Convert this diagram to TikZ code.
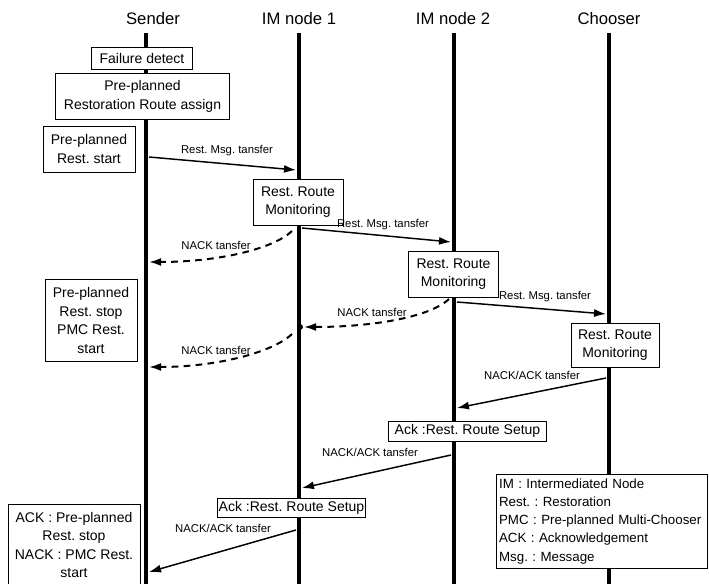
\documentclass[tikz,border=0pt]{standalone}
\usepackage{fontspec}
\setmainfont{Liberation Sans}
\usetikzlibrary{arrows.meta}

\begin{document}
\frenchspacing
\begin{tikzpicture}[x=0.75pt,y=-0.75pt,
        life/.style={line width=3.6pt},
        head/.style={font=\fontsize{12.5}{14}\selectfont},
        stepbox/.style={draw,fill=white,line width=0.6pt,align=center,inner sep=1pt,font=\fontsize{10.5}{13.8}\selectfont},
        lbl/.style={font=\fontsize{8.5}{10}\selectfont,inner sep=0pt},
        msg/.style={line width=1.1pt,-{Latex[length=9pt,width=6pt]}},
        nack/.style={msg,line width=1.5pt,dash pattern=on 5pt off 4pt}]
                \useasboundingbox (0,0) rectangle (709,584);

                % lifelines
                \node[head] (hSender) at (153,19) {Sender};
                \node[head] (hIM1) at (299,19) {IM node 1};
                \node[head] (hIM2) at (453,19) {IM node 2};
                \node[head] (hChooser) at (609,19) {Chooser};
                \coordinate (sTop) at (146,33);   \coordinate (sBot) at (146,592);
                \coordinate (aTop) at (299,33);   \coordinate (aBot) at (299,592);
                \coordinate (bTop) at (454,33);   \coordinate (bBot) at (454,592);
                \coordinate (cTop) at (609,33);   \coordinate (cBot) at (609,592);
                \draw [life] (sTop) -- (sBot);
                \draw [life] (aTop) -- (aBot);
                \draw [life] (bTop) -- (bBot);
                \draw [life] (cTop) -- (cBot);

                % boxes
                \node[stepbox,minimum width=76pt,minimum height=17pt] (fdet) at (142,58.5) {Failure detect};
                \node[stepbox,minimum width=130pt,minimum height=34pt] (assign) at (142.5,96.5) {Pre-planned\\Restoration Route assign};
                \node[stepbox,minimum width=69pt,minimum height=34.5pt] (pstart) at (89,149) {Pre-planned\\Rest. start};
                \node[stepbox,minimum width=67.5pt,minimum height=34.5pt] (mon1) at (298,202) {Rest. Route\\Monitoring};
                \node[stepbox,minimum width=67pt,minimum height=34.5pt] (mon2) at (453.5,274) {Rest. Route\\Monitoring};
                \node[stepbox,minimum width=66pt,minimum height=33pt] (mon3) at (615,345) {Rest. Route\\Monitoring};
                \node[stepbox,minimum width=69pt,minimum height=62pt] (pstop) at (91,320.5) {Pre-planned\\Rest. stop\\PMC Rest.\\start};
                \node[stepbox,minimum width=119pt,minimum height=15pt] (ack1) at (467.5,431) {Ack :Rest. Route Setup};
                \node[stepbox,minimum width=97.5pt,minimum height=14pt] (ack2) at (291.5,508) {Ack :Rest. Route Setup};
                \node[stepbox,minimum width=99pt,minimum height=61.5pt] (result) at (74,545) {ACK : Pre-planned\\Rest. stop\\NACK : PMC Rest.\\start};
                \node[stepbox,anchor=north west,align=left,inner xsep=2pt,inner ysep=3pt,text width=154pt,
                        font=\fontsize{10}{13.7}\selectfont] (legend) at (496,474)
                        {IM : Intermediated Node\\Rest. : Restoration\\PMC : Pre-planned Multi-Chooser\\ACK : Acknowledgement\\Msg. : Message};

                % message ends
                \coordinate (m1a) at (149,157);   \coordinate (m1b) at (296,170);
                \coordinate (m2a) at (302,228);   \coordinate (m2b) at (451,242);
                \coordinate (m3a) at (457,302);   \coordinate (m3b) at (606,314);
                \coordinate (n4a) at (606,378);   \coordinate (n4b) at (457,408);
                \coordinate (n5a) at (451,455);   \coordinate (n5b) at (302,488);
                \coordinate (n6a) at (296,530);   \coordinate (n6b) at (149,572);
                \coordinate (d1a) at (292,231);   \coordinate (d1b) at (149,262);
                \coordinate (d2a) at (449,299);   \coordinate (d2b) at (304,327);
                \coordinate (d3a) at (292,334);   \coordinate (d3b) at (149,367);
                \coordinate (dot) at (300,327);

                \draw [msg] (m1a) -- (m1b);
                \draw [msg] (m2a) -- (m2b);
                \draw [msg] (m3a) -- (m3b);
                \draw [msg] (n4a) -- (n4b);
                \draw [msg] (n5a) -- (n5b);
                \draw [msg] (n6a) -- (n6b);
                \draw [nack] (d1a) .. controls (272,250) and (215,262) .. (d1b);
                \draw [nack] (d2a) .. controls (429,318) and (369,327) .. (d2b);
                \draw [nack] (d3a) .. controls (272,353) and (215,367) .. (d3b);
                \filldraw (dot) circle (2pt);

                % labels
                \node[lbl] (l1) at (227,151) {Rest. Msg. tansfer};
                \node[lbl] (l2) at (383,225) {Rest. Msg. tansfer};
                \node[lbl] (l3) at (545,297) {Rest. Msg. tansfer};
                \node[lbl] (l4) at (532,375) {NACK/ACK tansfer};
                \node[lbl] (l5) at (370,452) {NACK/ACK tansfer};
                \node[lbl] (l6) at (223,528) {NACK/ACK tansfer};
                \node[lbl] (l7) at (216,245) {NACK tansfer};
                \node[lbl] (l8) at (372,312) {NACK tansfer};
                \node[lbl] (l9) at (216,350) {NACK tansfer};
            \end{tikzpicture}
\end{document}
